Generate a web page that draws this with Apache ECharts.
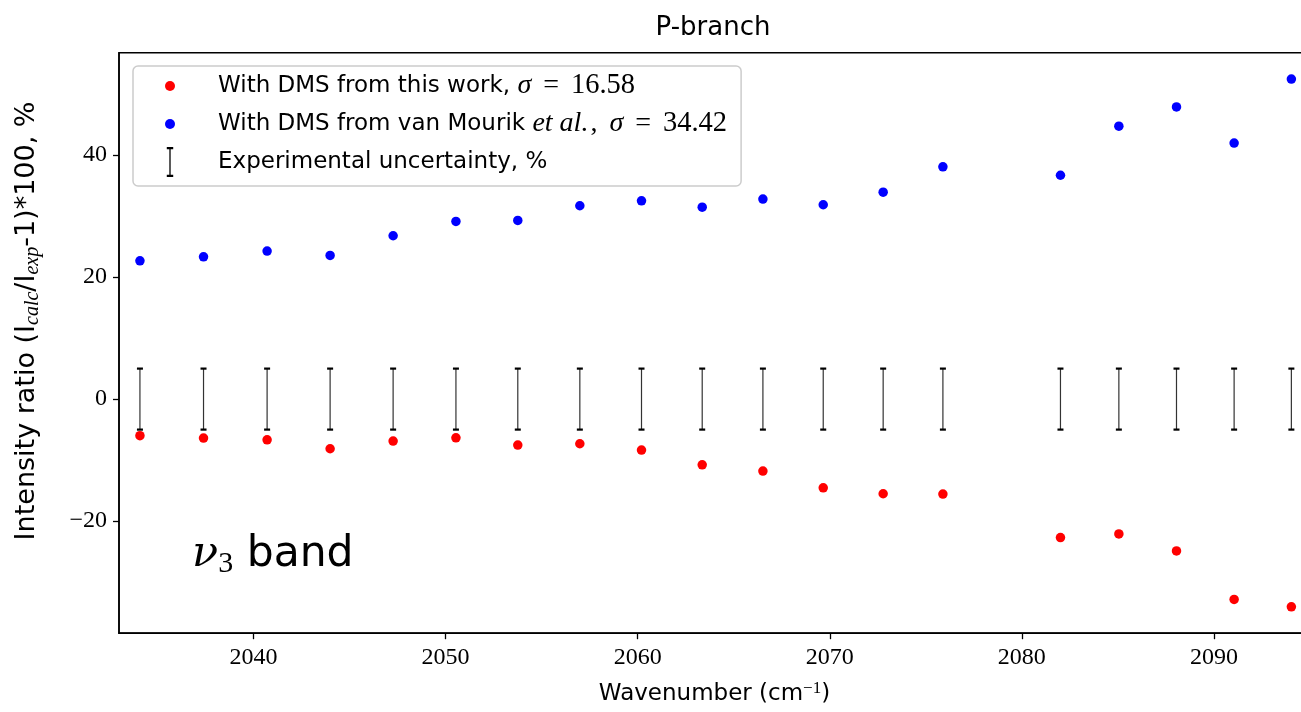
<!DOCTYPE html>
<html>
<head>
<meta charset="utf-8">
<script src="https://cdn.jsdelivr.net/npm/echarts@6/dist/echarts.min.js"></script>
<style>
  html, body { margin: 0; padding: 0; background: #fff; }
  #chart { width: 1301px; height: 712px; }
</style>
</head>
<body>
<div id="chart"></div>
<script>
// P-branch line positions, cm^-1
const wavenumbers = [2034.09, 2037.40, 2040.71, 2043.99, 2047.27, 2050.54, 2053.76, 2056.99, 2060.20,
  2063.36, 2066.52, 2069.66, 2072.78, 2075.89, 2082.01, 2085.05, 2088.05, 2091.05, 2094.03];
// (I_calc / I_exp - 1) * 100, %
const ratioThisWork = [-6.0, -6.39, -6.67, -8.14, -6.89, -6.34, -7.54, -7.32, -8.36,
  -10.77, -11.8, -14.54, -15.52, -15.57, -22.7, -22.1, -24.9, -32.85, -34.05];
const ratioVanMourik = [22.67, 23.33, 24.26, 23.55, 26.78, 29.13, 29.29, 31.7, 32.5,
  31.47, 32.79, 31.86, 33.93, 38.08, 36.7, 44.75, 47.9, 41.97, 52.46];
// experimental uncertainty, %
const uncertainty = [5, 5, 5, 5, 5, 5, 5, 5, 5, 5, 5, 5, 5, 5, 5, 5, 5, 5, 5];

const xTicks = [2040, 2050, 2060, 2070, 2080, 2090];
const yTicks = [-20, 0, 20, 40];

const NAME_THIS = 'With DMS from this work, σ = 16.58';
const NAME_VM = 'With DMS from van Mourik et al., σ = 34.42';
const NAME_ERR = 'Experimental uncertainty, %';

const SANS = '"DejaVu Sans", Lato, sans-serif';
const SERIF = '"Liberation Serif", "DejaVu Serif", serif';

// I-beam glyph for the error bar legend entry
const ERR_ICON = 'path://M0,0H6V2H3.6V26H6V28H0V26H2.4V2H0Z';

const legendRich = {
  [NAME_THIS]: '{s0|With DMS from this work, }{mi|σ}{eq|=}{m|16.58}',
  [NAME_VM]: '{s0|With DMS from van Mourik }{mi|et al.}{cm|,}{mi|σ}{eq|=}{m|34.42}',
  [NAME_ERR]: '{s0|Experimental uncertainty, %}'
};

const chart = echarts.init(document.getElementById('chart'), null, { renderer: 'canvas' });

const minusFmt = v => (v < 0 ? '\u2212' + (-v) : String(v));

const option = {
  animation: false,
  backgroundColor: '#ffffff',
  title: {
    text: 'P-branch',
    left: 708,
    top: 10,
    textAlign: 'center',
    textStyle: { fontFamily: SANS, fontSize: 26, fontWeight: 'normal', color: '#000' }
  },
  grid: {
    left: 119, top: 52.7, right: -9, bottom: 78.8,
    outerBoundsMode: 'none',
    show: true, borderColor: '#000', borderWidth: 1.5, backgroundColor: 'transparent'
  },
  legend: {
    orient: 'vertical',
    left: 133,
    top: 66,
    padding: [5, 14, 9, 32],
    itemWidth: 10,
    itemHeight: 30,
    itemGap: 8,
    symbolKeepAspect: true,
    backgroundColor: 'rgba(255,255,255,0.85)',
    borderColor: '#cccccc',
    borderWidth: 1.5,
    borderRadius: 5,
    selectedMode: false,
    data: [
      { name: NAME_THIS, icon: 'circle' },
      { name: NAME_VM, icon: 'circle' },
      { name: NAME_ERR, icon: ERR_ICON }
    ],
    formatter: name => legendRich[name],
    textStyle: {
      color: '#000',
      fontFamily: SANS,
      fontSize: 23,
      lineHeight: 30,
      rich: {
        s0: { fontFamily: SANS, fontSize: 23, color: '#000', lineHeight: 30, padding: [0, 0, 0, 38] },
        mi: { fontFamily: SERIF, fontStyle: 'italic', fontSize: 28, color: '#000', lineHeight: 30 },
        cm: { fontFamily: SERIF, fontSize: 28, color: '#000', lineHeight: 30, padding: [0, 12, 0, 2] },
        eq: { fontFamily: SERIF, fontSize: 28, color: '#000', lineHeight: 30, padding: [0, 12, 0, 12] },
        m: { fontFamily: SERIF, fontSize: 28.5, color: '#000', lineHeight: 30 }
      }
    }
  },
  xAxis: {
    type: 'value',
    min: 2033,
    max: 2095,
    name: '{s|Wavenumber (cm}{sup|\u22121}{s|)}',
    nameLocation: 'middle',
    nameGap: 47,
    nameTextStyle: {
      fontFamily: SANS, fontSize: 23, color: '#000',
      rich: {
        s: { fontFamily: SANS, fontSize: 23, color: '#000', lineHeight: 28 },
        sup: { fontFamily: SERIF, fontSize: 17, color: '#000', lineHeight: 16, verticalAlign: 'top' }
      }
    },
    axisLine: { show: true, onZero: false, lineStyle: { color: '#000', width: 1.5 } },
    axisTick: { show: true, length: 6, lineStyle: { color: '#000', width: 1.3 }, customValues: xTicks },
    axisLabel: {
      customValues: xTicks,
      fontFamily: SERIF, fontSize: 24, color: '#000', margin: 13,
      formatter: v => String(v)
    },
    splitLine: { show: false }
  },
  yAxis: {
    type: 'value',
    min: -38.38,
    max: 56.79,
    name: '{s|Intensity ratio (I}{sub|calc}{s|/I}{sub|exp}{s|-1)*100, %}',
    nameLocation: 'middle',
    nameRotate: 90,
    nameGap: 76,
    nameTextStyle: {
      fontFamily: SANS, fontSize: 27, color: '#000',
      padding: [0, 0, 0, 44],
      rich: {
        s: { fontFamily: SANS, fontSize: 27, color: '#000', lineHeight: 32 },
        sub: { fontFamily: SERIF, fontStyle: 'italic', fontSize: 20, color: '#000', lineHeight: 18, verticalAlign: 'bottom' }
      }
    },
    axisLine: { show: true, onZero: false, lineStyle: { color: '#000', width: 1.5 } },
    axisTick: { show: true, length: 6, lineStyle: { color: '#000', width: 1.3 }, customValues: yTicks },
    axisLabel: {
      customValues: yTicks,
      fontFamily: SERIF, fontSize: 24, color: '#000', margin: 12,
      formatter: minusFmt
    },
    splitLine: { show: false }
  },
  graphic: [
    {
      type: 'text',
      left: 192,
      top: 533,
      z: 10,
      style: {
        text: '{nu|ν}{sub|3}{b| band}',
        rich: {
          nu: { fontFamily: '"DejaVu Serif", serif', fontStyle: 'italic', fontSize: 43, fill: '#000', lineHeight: 50 },
          sub: { fontFamily: SERIF, fontSize: 30, fill: '#000', lineHeight: 30, verticalAlign: 'bottom' },
          b: { fontFamily: SANS, fontSize: 42.5, fill: '#000', lineHeight: 50 }
        }
      }
    }
  ],
  series: [
    {
      name: NAME_ERR,
      type: 'custom',
      z: 2,
      color: '#000',
      itemStyle: { color: '#000' },
      encode: { x: 0, y: [1, 2] },
      data: wavenumbers.map((w, i) => [w, -uncertainty[i], uncertainty[i]]),
      renderItem: (params, api) => {
        const x = api.value(0);
        const top = api.coord([x, api.value(2)]);
        const bot = api.coord([x, api.value(1)]);
        const cap = 3;
        return {
          type: 'group',
          children: [
            { type: 'line', shape: { x1: top[0], y1: top[1], x2: bot[0], y2: bot[1] },
              style: { stroke: '#333', lineWidth: 1.2 } },
            { type: 'line', shape: { x1: top[0] - cap, y1: top[1], x2: top[0] + cap, y2: top[1] },
              style: { stroke: '#000', lineWidth: 2.2 } },
            { type: 'line', shape: { x1: bot[0] - cap, y1: bot[1], x2: bot[0] + cap, y2: bot[1] },
              style: { stroke: '#000', lineWidth: 2.2 } }
          ]
        };
      }
    },
    {
      name: NAME_THIS,
      type: 'scatter',
      z: 3,
      symbol: 'circle',
      symbolSize: 9.5,
      itemStyle: { color: '#ff0000', opacity: 1 },
      data: wavenumbers.map((w, i) => [w, ratioThisWork[i]])
    },
    {
      name: NAME_VM,
      type: 'scatter',
      z: 3,
      symbol: 'circle',
      symbolSize: 9.5,
      itemStyle: { color: '#0000ff', opacity: 1 },
      data: wavenumbers.map((w, i) => [w, ratioVanMourik[i]])
    }
  ]
};

chart.setOption(option);
</script>
</body>
</html>
